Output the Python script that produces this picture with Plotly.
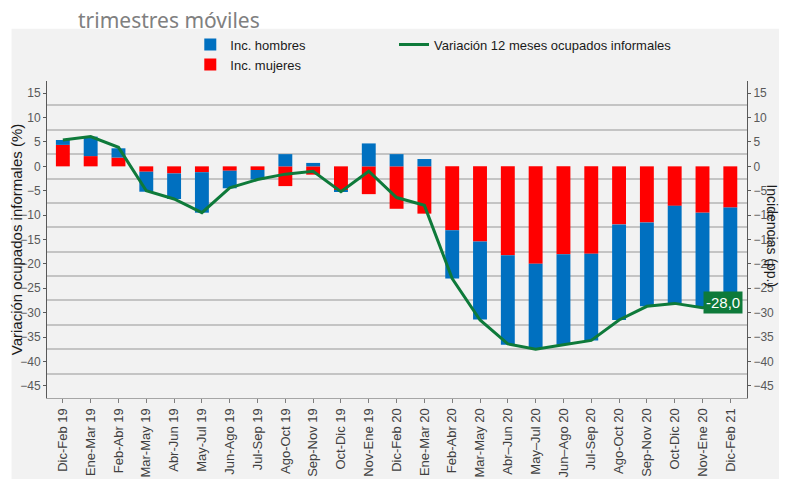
import plotly.graph_objects as go

categories = ["Dic-Feb 19", "Ene-Mar 19", "Feb-Abr 19", "Mar-May 19", "Abr-Jun 19",
              "May-Jul 19", "Jun-Ago 19", "Jul-Sep 19", "Ago-Oct 19", "Sep-Nov 19",
              "Oct-Dic 19", "Nov-Ene 19", "Dic-Feb 20", "Ene-Mar 20", "Feb-Abr 20",
              "Mar-May 20", "Abr–Jun 20", "May–Jul 20", "Jun–Ago 20", "Jul-Sep 20",
              "Ago-Oct 20", "Sep-Nov 20", "Oct-Dic 20", "Nov-Ene 20", "Dic-Feb 21"]

inc_mujeres = [4.4, 2.1, 1.8, -1.1, -1.45, -1.2, -0.9, -0.75, -4.05, -1.7,
               -4.9, -5.7, -8.7, -9.7, -13.1, -15.4, -18.25, -19.95, -18.05, -17.9,
               -11.9, -11.5, -8.1, -9.5, -8.45]
inc_hombres = [1.0, 4.0, 1.9, -4.1, -5.25, -8.3, -3.6, -1.95, 2.5, 0.7,
               -0.3, 4.7, 2.5, 1.5, -9.9, -16.0, -18.35, -17.3, -18.55, -17.8,
               -19.6, -17.2, -20.0, -19.4, -19.55]
variacion = [5.4, 6.1, 3.9, -5.0, -6.7, -9.5, -4.4, -2.7, -1.6, -1.0,
             -5.2, -1.0, -6.4, -8.0, -23.0, -31.5, -36.4, -37.5, -36.6, -35.7,
             -31.5, -28.7, -28.1, -29.0, -28.0]

y_range = [-47.5, 17.5]
narrow = "Liberation Sans Narrow, Arial Narrow, Liberation Sans, Arial"
tick_font = dict(family=narrow, size=12, color="#595959")

OFF = 8  # page body margin
W, H = 787 - OFF, 479 - OFF
L, R, T, B = 38.5, 39.5, 73.3, 81
PW, PH = W - L - R, H - T - B


def px_x(sx):
    return (sx - OFF - L) / PW


def px_y(sy):
    return (H - B - (sy - OFF)) / PH


fig = go.Figure()
fig.add_trace(go.Bar(x=categories, y=inc_mujeres, name="Inc. mujeres", legendrank=2,
                     marker=dict(color="#FF0000", line=dict(width=0)), legend="legend"))
fig.add_trace(go.Bar(x=categories, y=inc_hombres, name="Inc. hombres", legendrank=1,
                     marker=dict(color="#0070C0", line=dict(width=0)), legend="legend"))
fig.add_trace(go.Scatter(x=categories, y=variacion, name="Variación 12 meses ocupados informales",
                         mode="lines", line=dict(color="#0E7A3A", width=3), legend="legend2"))
fig.add_trace(go.Scatter(x=categories, y=variacion, yaxis="y2", mode="lines",
                         line=dict(width=0), showlegend=False, hoverinfo="skip", opacity=0))
fig.add_trace(go.Scatter(x=categories, y=variacion, yaxis="y3", mode="lines",
                         line=dict(width=0), showlegend=False, hoverinfo="skip", opacity=0))

fig.add_annotation(x=categories[-1], y=variacion[-1], text="-28,0", showarrow=False,
                   bgcolor="#0E7A3A", font=dict(color="white", size=15, family=narrow),
                   xshift=-7, borderpad=2)

fig.update_layout(
    width=W, height=H,
    margin=dict(l=L, r=R, t=T, b=B, autoexpand=False),
    paper_bgcolor="#F2F2F2", plot_bgcolor="#F2F2F2",
    barmode="relative", bargap=0.5,
    xaxis=dict(range=[-0.57, 24.6], tickangle=-90, ticks="outside", ticklen=4,
               tickcolor="#7f7f7f", showline=True, linecolor="#a6a6a6", linewidth=1,
               tickfont=dict(family="Liberation Sans, Arial", size=13, color="#404040"),
               showgrid=False, automargin=False),
    yaxis=dict(range=y_range, dtick=5, tick0=0, showgrid=False, zeroline=False,
               ticks="outside", ticklen=3, tickcolor="#595959", showline=True,
               linecolor="#595959", linewidth=1, tickfont=tick_font, automargin=False,
               title=dict(text="Variación ocupados informales (%)", standoff=4,
                          font=dict(family="Liberation Sans, Arial", size=15, color="#1a1a1a"))),
    yaxis2=dict(range=y_range, dtick=5, tick0=0, overlaying="y", side="right",
                showgrid=False, zeroline=False, ticks="outside", ticklen=3,
                tickcolor="#595959", showline=True, linecolor="#595959", linewidth=1,
                tickfont=tick_font, automargin=False),
    yaxis3=dict(range=y_range, dtick=5, tick0=2.5, overlaying="y", side="left",
                showgrid=True, gridcolor="#c4c4c4", gridwidth=1.5, zeroline=False,
                showticklabels=False, ticks="", showline=False, automargin=False),
    legend=dict(x=px_x(190), y=px_y(30), xanchor="left", yanchor="top",
                bgcolor="rgba(0,0,0,0)", tracegroupgap=0, traceorder="normal",
                font=dict(family=narrow, size=13, color="#1a1a1a")),
    legend2=dict(x=px_x(394), y=px_y(30), xanchor="left", yanchor="top",
                 bgcolor="rgba(0,0,0,0)",
                 font=dict(family=narrow, size=13, color="#1a1a1a")),
    showlegend=True,
)

fig.add_shape(type="rect", xref="paper", yref="paper", x0=-0.2, x1=1.2,
              y0=px_y(29), y1=1.4, fillcolor="white", line=dict(width=0), layer="below")
fig.add_shape(type="rect", xref="paper", yref="paper", x0=-0.2, x1=px_x(11),
              y0=-0.4, y1=1.4, fillcolor="white", line=dict(width=0), layer="below")

fig.add_annotation(xref="paper", yref="paper", x=px_x(76), y=px_y(20),
                   xanchor="left", yanchor="middle", showarrow=False,
                   text="trimestres móviles",
                   font=dict(family="Noto Sans, Open Sans, sans-serif", size=21, color="#808080"))

fig.add_annotation(xref="paper", yref="paper", x=px_x(773), y=px_y(236),
                   xanchor="center", yanchor="middle", showarrow=False, textangle=90,
                   text="Incidencias (pp.)",
                   font=dict(family="Liberation Sans, Arial", size=14, color="#1a1a1a"))

fig.write_html("out.html")
